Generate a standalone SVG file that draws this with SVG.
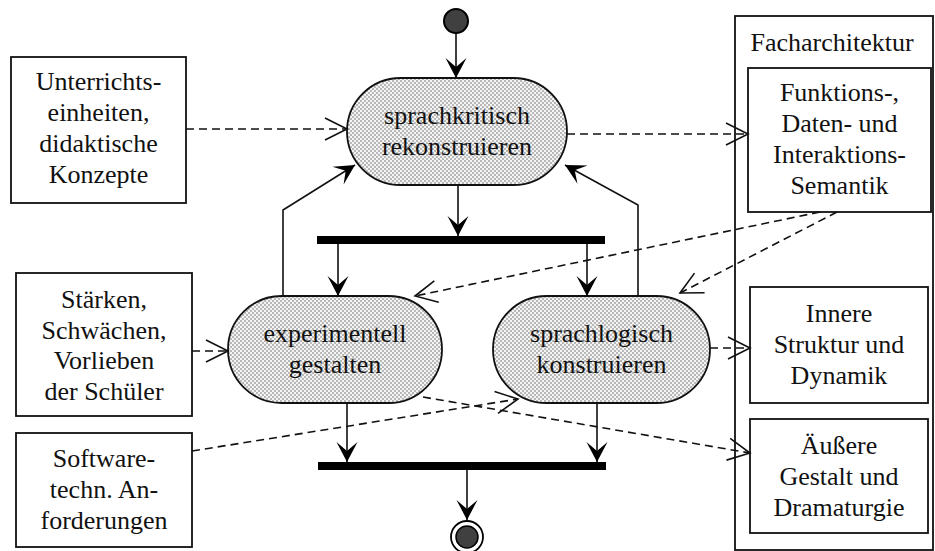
<svg xmlns="http://www.w3.org/2000/svg" width="935" height="551" viewBox="0 0 935 551">
<style>
.t text{font-size:26px;fill:#111;text-anchor:middle}
.box{fill:#fff;stroke:#111;stroke-width:1.8}
.act{fill:url(#chk);stroke:#111;stroke-width:1.8}
.bar{fill:#000}
.sol{fill:none;stroke:#111;stroke-width:1.6;marker-end:url(#fa)}
.dsh{fill:none;stroke:#111;stroke-width:1.6;stroke-dasharray:8 5;marker-end:url(#oa)}
</style>
<defs>
<pattern id="chk" width="4" height="4" patternUnits="userSpaceOnUse">
<rect width="4" height="4" fill="#f4f4f4"/>
<rect width="2" height="2" fill="#b8b8b8"/>
<rect x="2" y="2" width="2" height="2" fill="#b8b8b8"/>
</pattern>
<marker id="fa" markerUnits="userSpaceOnUse" viewBox="-21 -12 22 24" refX="0" refY="0" markerWidth="22" markerHeight="24" orient="auto">
<path d="M0,0 L-20,-10.5 L-11,0 L-20,10.5 Z" fill="#000"/>
</marker>
<marker id="oa" markerUnits="userSpaceOnUse" viewBox="-24 -13 26 26" refX="0" refY="0" markerWidth="26" markerHeight="26" orient="auto">
<path d="M-22,-11 L0,0 L-22,11" fill="none" stroke="#111" stroke-width="1.6" stroke-dasharray="none"/>
</marker>
</defs>

<g class="t" font-family="'Liberation Serif', 'Times New Roman', 'DejaVu Serif', serif">

<g id="container-facharchitektur">
<rect class="box" x="735" y="16" width="198" height="534"/>
<text x="832" y="51">Facharchitektur</text>
</g>

<g id="start">
<circle cx="456" cy="21" r="12" fill="#404040" stroke="#000" stroke-width="2"/>
</g>

<g id="final">
<circle cx="467" cy="537" r="16" fill="#fff" stroke="#000" stroke-width="1.8"/>
<circle cx="467" cy="537" r="11" fill="#404040" stroke="#000" stroke-width="1.5"/>
</g>

<g id="sprachkritisch">
<rect class="act" x="347" y="78" width="220" height="107" rx="53.5" ry="53.5"/>
<text x="457" y="124">sprachkritisch</text>
<text x="457" y="155">rekonstruieren</text>
</g>

<g id="experimentell">
<rect class="act" x="228" y="296" width="214" height="107" rx="53.5" ry="53.5"/>
<text x="335" y="342">experimentell</text>
<text x="335" y="373">gestalten</text>
</g>

<g id="sprachlogisch">
<rect class="act" x="493" y="296" width="217" height="107" rx="53.5" ry="53.5"/>
<text x="601.5" y="342">sprachlogisch</text>
<text x="601.5" y="373">konstruieren</text>
</g>

<g id="fork">
<rect class="bar" x="317" y="236" width="288" height="8"/>
</g>
<g id="join">
<rect class="bar" x="318" y="462" width="288" height="8"/>
</g>

<g id="unterricht">
<rect class="box" x="11" y="57" width="175" height="146"/>
<text x="98.5" y="90">Unterrichts-</text>
<text x="98.5" y="121">einheiten,</text>
<text x="98.5" y="152">didaktische</text>
<text x="98.5" y="183">Konzepte</text>
</g>

<g id="staerken">
<rect class="box" x="16" y="273" width="176" height="143"/>
<text x="104" y="308">Stärken,</text>
<text x="104" y="338.5">Schwächen,</text>
<text x="104" y="369">Vorlieben</text>
<text x="104" y="399.5">der Schüler</text>
</g>

<g id="software">
<rect class="box" x="16" y="433" width="176" height="114"/>
<text x="104" y="467">Software-</text>
<text x="104" y="498">techn. An-</text>
<text x="104" y="529">forderungen</text>
</g>

<g id="funktions">
<rect class="box" x="748" y="68" width="183" height="144"/>
<text x="839.5" y="101">Funktions-,</text>
<text x="839.5" y="132">Daten- und</text>
<text x="839.5" y="163">Interaktions-</text>
<text x="839.5" y="194">Semantik</text>
</g>

<g id="innere">
<rect class="box" x="750" y="287" width="178" height="116"/>
<text x="839" y="322">Innere</text>
<text x="839" y="353">Struktur und</text>
<text x="839" y="384">Dynamik</text>
</g>

<g id="aeussere">
<rect class="box" x="750" y="419" width="178" height="114"/>
<text x="839" y="454">Äußere</text>
<text x="839" y="485">Gestalt und</text>
<text x="839" y="516">Dramaturgie</text>
</g>

<g id="connectors">
<path class="sol" d="M456,33 L456,78"/>
<path class="sol" d="M458,185 L458,236"/>
<path class="sol" d="M338,244 L338,296"/>
<path class="sol" d="M587,244 L587,296"/>
<path class="sol" d="M283,296 L283,210 L355,165"/>
<path class="sol" d="M638,296 L638,205 L565,165"/>
<path class="sol" d="M347,403 L347,462"/>
<path class="sol" d="M597,403 L597,462"/>
<path class="sol" d="M467,470 L467,520"/>
<path class="dsh" d="M186,129 L347,129"/>
<path class="dsh" d="M567,134 L748,134"/>
<path class="dsh" d="M820,212 L415,296"/>
<path class="dsh" d="M837,212 L680,293"/>
<path class="dsh" d="M192,351 L228,351"/>
<path class="dsh" d="M192,451 L518,399"/>
<path class="dsh" d="M423,397 L750,453"/>
<path class="dsh" d="M710,348 L750,348"/>
</g>
</g>
</svg>
